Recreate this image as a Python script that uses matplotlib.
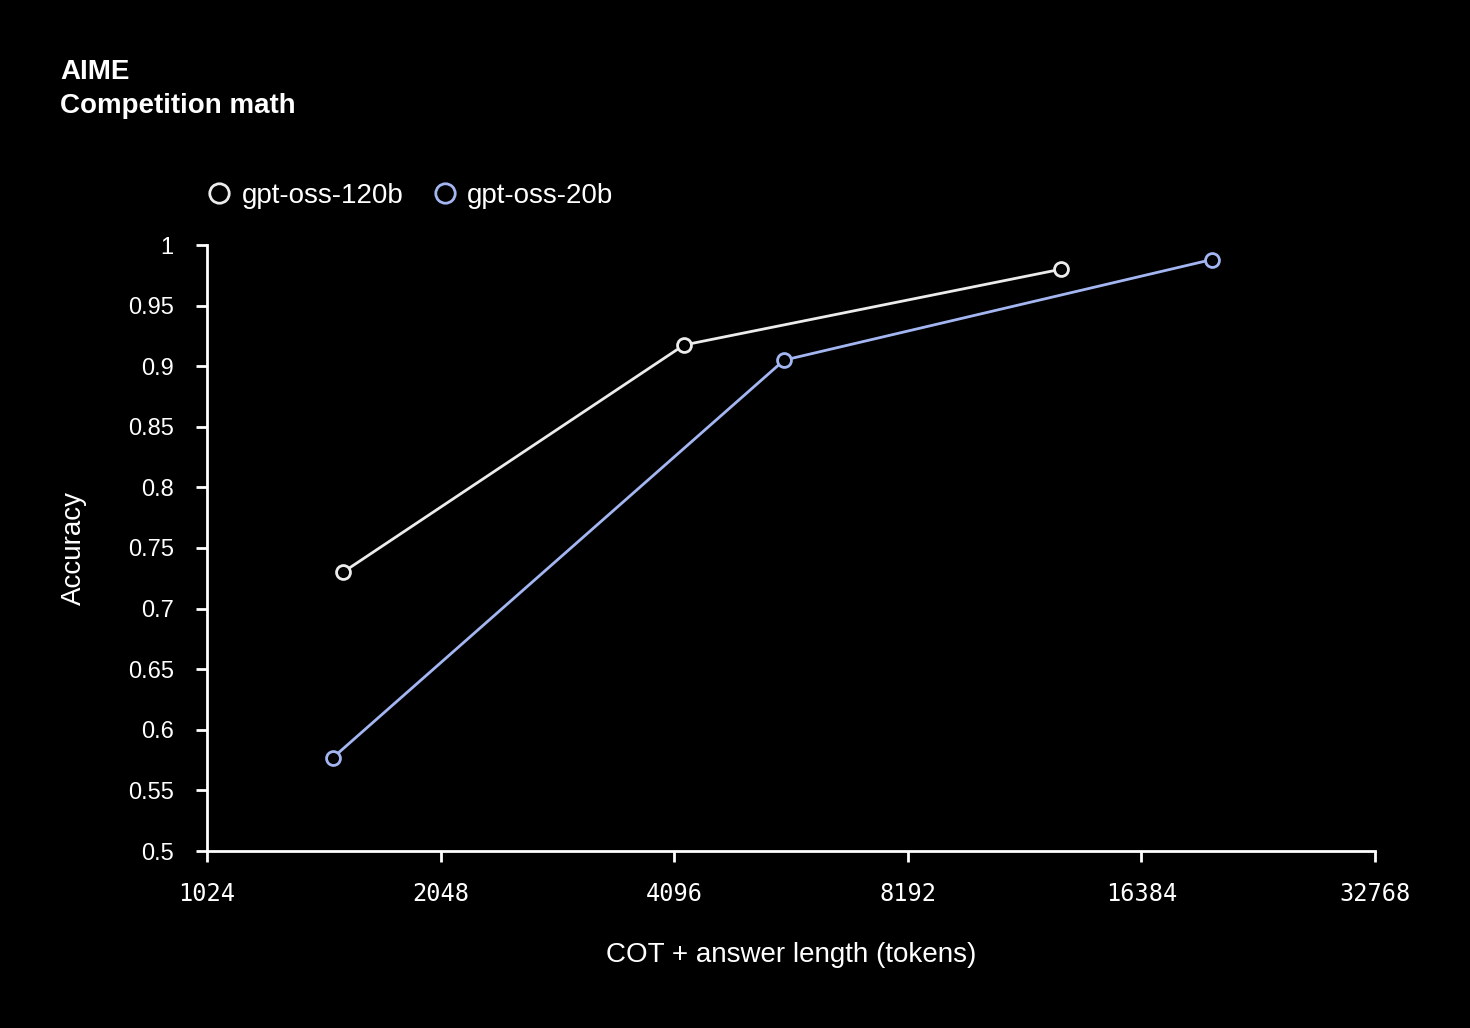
import matplotlib.pyplot as plt

# reading of the AIME chart
tokens_120b = [1533, 4217, 12905]
acc_120b = [0.730, 0.9175, 0.980]
tokens_20b = [1488, 5675, 20200]
acc_20b = [0.577, 0.905, 0.988]

xticks = [1024, 2048, 4096, 8192, 16384, 32768]
yticks = [0.5, 0.55, 0.6, 0.65, 0.7, 0.75, 0.8, 0.85, 0.9, 0.95, 1]

plt.rcParams['font.family'] = ['Liberation Sans', 'DejaVu Sans']

fig = plt.figure(figsize=(14.7, 10.28), dpi=100, facecolor='black')
ax = fig.add_axes([207 / 1470, 1 - 851 / 1028, 1168 / 1470, 606 / 1028])
ax.set_facecolor('black')

c120 = '#ececec'
c20 = '#a3b6f2'
ax.plot(tokens_120b, acc_120b, '-o', color=c120, lw=2, ms=10, mew=2,
        mfc='black', mec=c120, label='gpt-oss-120b', clip_on=False)
ax.plot(tokens_20b, acc_20b, '-o', color=c20, lw=2, ms=10, mew=2,
        mfc='black', mec=c20, label='gpt-oss-20b', clip_on=False)

ax.set_xscale('log', base=2)
ax.set_xlim(1024, 32768)
ax.set_ylim(0.5, 1)
ax.set_xticks(xticks)
ax.set_xticklabels([str(t) for t in xticks], family='DejaVu Sans Mono', fontsize=17)
ax.xaxis.set_minor_locator(plt.NullLocator())
ax.set_yticks(yticks)
ax.set_yticklabels(['%g' % t for t in yticks], fontsize=17)

for s in ['top', 'right']:
    ax.spines[s].set_visible(False)
for s in ['left', 'bottom']:
    ax.spines[s].set_color('white')
    ax.spines[s].set_linewidth(2)
ax.tick_params(colors='white', width=2, length=8, pad=16)
ax.tick_params(axis='x', pad=14)

ax.set_xlabel('COT + answer length (tokens)', color='white', fontsize=20, labelpad=26)
ax.set_ylabel('Accuracy', color='white', fontsize=20, labelpad=29)

leg = ax.legend(loc='upper left', bbox_to_anchor=(200 / 1470, 1 - 172 / 1028),
                bbox_transform=fig.transFigure, ncol=2, frameon=False,
                fontsize=20, handlelength=0.6, handletextpad=0.5,
                columnspacing=1.2, borderaxespad=0, markerscale=1.4)
for t in leg.get_texts():
    t.set_color('white')
for h in leg.get_lines():
    h.set_linestyle('none')

fig.text(60 / 1470, 1 - 72 / 1028, 'AIME', color='white', fontsize=20,
         fontweight='bold', va='center')
fig.text(60 / 1470, 1 - 106 / 1028, 'Competition math', color='white',
         fontsize=20, fontweight='bold', va='center')

fig.savefig('out.png', dpi=100, facecolor='black')
